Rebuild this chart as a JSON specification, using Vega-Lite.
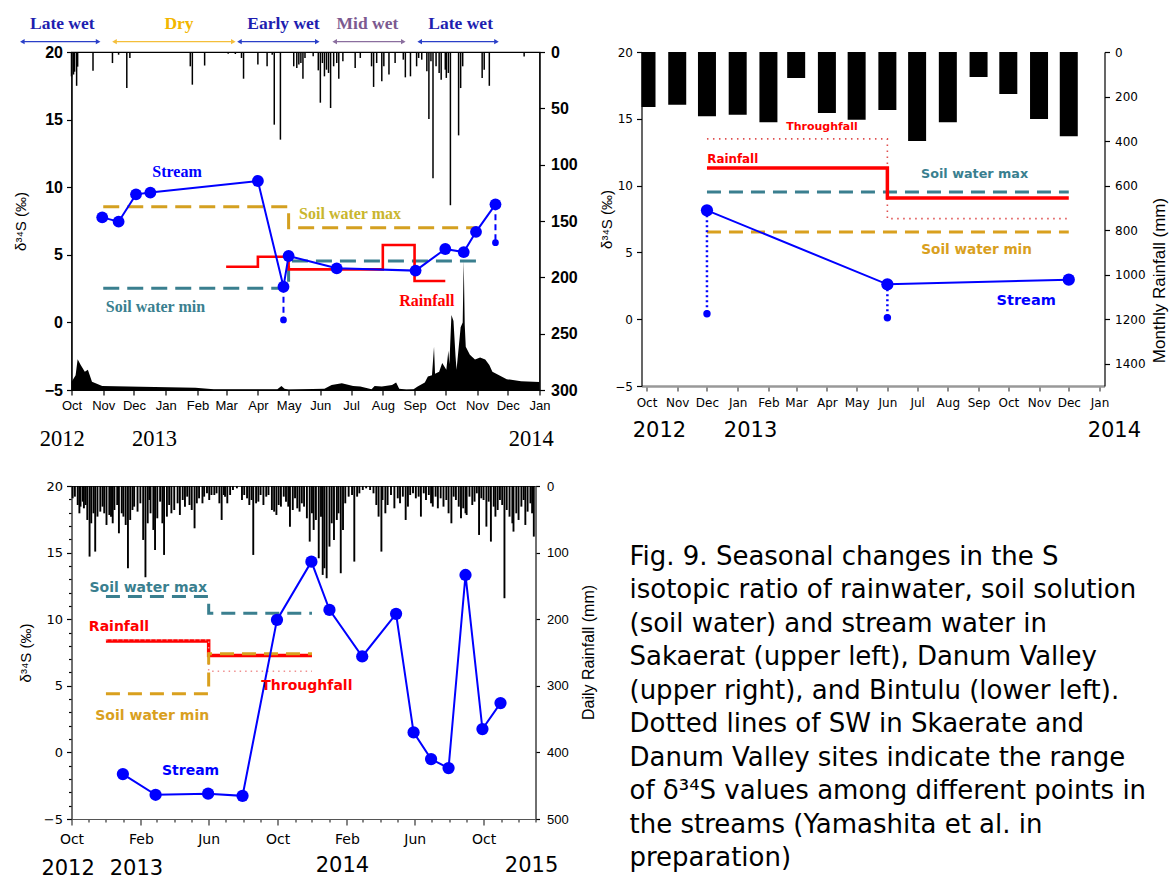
{
"$schema": "https://vega.github.io/schema/vega-lite/v6.json",
"background": "white",
"padding": {"left": 12.5, "top": 14, "right": 5, "bottom": 0},
"columns": 2,
"spacing": {"row": 96, "column": 102},
"bounds": "flush",
"config": {
  "view": {"stroke": null},
  "axis": {"grid": false, "domainColor": "black", "tickColor": "black", "labelColor": "black", "titleColor": "black", "domainWidth": 1.2, "tickWidth": 1.2}
},
"datasets": {
  "p1rain": [
    {"date":"2012-10-01","rain":21.6},{"date":"2012-10-03","rain":20},{"date":"2012-10-04","rain":17.5},{"date":"2012-10-06","rain":30},{"date":"2012-10-07","rain":13},
    {"date":"2012-10-22","rain":16.6},{"date":"2012-11-10","rain":9.8},{"date":"2012-11-16","rain":2.4},{"date":"2012-11-24","rain":32},{"date":"2012-11-27","rain":5.3},
    {"date":"2013-01-25","rain":12.7},{"date":"2013-01-27","rain":29},{"date":"2013-02-08","rain":12},{"date":"2013-03-03","rain":1.5},{"date":"2013-03-10","rain":1.8},
    {"date":"2013-03-16","rain":5.3},{"date":"2013-03-18","rain":23.7},{"date":"2013-04-01","rain":11},{"date":"2013-04-10","rain":12.7},{"date":"2013-04-15","rain":2.4},
    {"date":"2013-04-17","rain":64.5},{"date":"2013-04-23","rain":77.8},{"date":"2013-05-06","rain":12.7},{"date":"2013-05-09","rain":14.2},{"date":"2013-05-11","rain":11},
    {"date":"2013-05-13","rain":9.8},{"date":"2013-05-15","rain":23.7},{"date":"2013-05-17","rain":5.3},{"date":"2013-05-25","rain":3.8},{"date":"2013-05-30","rain":16.3},
    {"date":"2013-06-01","rain":45},{"date":"2013-06-03","rain":9.8},{"date":"2013-06-05","rain":21.6},{"date":"2013-06-07","rain":15.7},{"date":"2013-06-09","rain":18.6},
    {"date":"2013-06-11","rain":49.7},{"date":"2013-06-14","rain":12.7},{"date":"2013-06-17","rain":9.8},{"date":"2013-06-19","rain":23.7},{"date":"2013-06-23","rain":8.3},
    {"date":"2013-07-05","rain":14.2},{"date":"2013-07-10","rain":5.3},{"date":"2013-07-21","rain":12.7},{"date":"2013-07-23","rain":31},{"date":"2013-07-26","rain":9.8},
    {"date":"2013-07-31","rain":26},{"date":"2013-08-02","rain":12.7},{"date":"2013-08-07","rain":20},{"date":"2013-08-13","rain":9.8},{"date":"2013-08-21","rain":6.8},
    {"date":"2013-08-23","rain":22.5},{"date":"2013-08-28","rain":21.6},{"date":"2013-09-03","rain":12.7},{"date":"2013-09-05","rain":5.3},{"date":"2013-09-08","rain":6.8},
    {"date":"2013-09-13","rain":17},{"date":"2013-09-15","rain":59.5},{"date":"2013-09-17","rain":8.3},{"date":"2013-09-19","rain":112},{"date":"2013-09-22","rain":12.7},
    {"date":"2013-09-25","rain":18.6},{"date":"2013-09-27","rain":24.6},{"date":"2013-10-01","rain":15.7},{"date":"2013-10-02","rain":23},{"date":"2013-10-04","rain":18.6},
    {"date":"2013-10-06","rain":136},{"date":"2013-10-14","rain":74},{"date":"2013-10-16","rain":32},{"date":"2013-10-18","rain":12.7},{"date":"2013-11-06","rain":23},
    {"date":"2013-11-08","rain":15.7},{"date":"2013-11-13","rain":30},{"date":"2013-12-17","rain":4}
  ],
  "p1q": [
    {"date":"2012-10-01","v":-4.4},{"date":"2012-10-05","v":-3.9},{"date":"2012-10-07","v":-2.73},{"date":"2012-10-10","v":-3.15},{"date":"2012-10-14","v":-3.65},
    {"date":"2012-10-17","v":-3.5},{"date":"2012-10-21","v":-4.39},{"date":"2012-10-31","v":-4.7},{"date":"2012-12-08","v":-4.76},{"date":"2013-01-30","v":-4.83},
    {"date":"2013-02-17","v":-4.95},{"date":"2013-04-20","v":-4.95},{"date":"2013-04-24","v":-4.7},{"date":"2013-04-27","v":-4.9},{"date":"2013-05-01","v":-4.97},
    {"date":"2013-06-05","v":-4.9},{"date":"2013-06-12","v":-4.63},{"date":"2013-06-22","v":-4.5},{"date":"2013-07-03","v":-4.7},{"date":"2013-07-10","v":-4.75},
    {"date":"2013-07-21","v":-4.95},{"date":"2013-07-24","v":-4.7},{"date":"2013-07-31","v":-4.75},{"date":"2013-08-10","v":-4.63},{"date":"2013-08-14","v":-4.45},
    {"date":"2013-08-17","v":-4.9},{"date":"2013-08-24","v":-4.97},{"date":"2013-08-31","v":-4.95},{"date":"2013-09-04","v":-4.75},{"date":"2013-09-11","v":-4.45},
    {"date":"2013-09-14","v":-4.0},{"date":"2013-09-18","v":-3.9},{"date":"2013-09-20","v":-1.8},{"date":"2013-09-21","v":-3.8},{"date":"2013-09-25","v":-3.65},
    {"date":"2013-09-28","v":-3.0},{"date":"2013-10-02","v":-3.5},{"date":"2013-10-04","v":-2.1},{"date":"2013-10-05","v":-3.1},{"date":"2013-10-07","v":0.55},
    {"date":"2013-10-09","v":0.1},{"date":"2013-10-11","v":-2.5},{"date":"2013-10-12","v":-3.5},{"date":"2013-10-16","v":-0.35},{"date":"2013-10-18","v":0.0},
    {"date":"2013-10-19","v":4.6},{"date":"2013-10-20","v":-0.2},{"date":"2013-10-21","v":-1.8},{"date":"2013-10-25","v":-2.4},{"date":"2013-10-30","v":-2.75},
    {"date":"2013-11-04","v":-2.6},{"date":"2013-11-09","v":-2.75},{"date":"2013-11-13","v":-3.15},{"date":"2013-11-16","v":-3.65},{"date":"2013-11-30","v":-4.2},
    {"date":"2013-12-14","v":-4.35},{"date":"2014-01-01","v":-4.4}
  ],
  "p1swmax": [{"date":"2012-11-01","v":8.56},{"date":"2013-05-01","v":7.0},{"date":"2013-11-01","v":7.0}],
  "p1swmin": [{"date":"2012-11-01","v":2.52},{"date":"2013-05-01","v":4.54},{"date":"2013-11-01","v":4.54}],
  "p1rainfall": [{"date":"2013-03-01","v":4.12},{"date":"2013-04-01","v":4.86},{"date":"2013-05-01","v":3.92},{"date":"2013-08-01","v":5.72},{"date":"2013-09-01","v":3.06},{"date":"2013-10-01","v":3.06}],
  "p1stream": [
    {"date":"2012-10-31","v":7.77},{"date":"2012-11-16","v":7.45},{"date":"2012-12-03","v":9.47},{"date":"2012-12-17","v":9.6},{"date":"2013-04-01","v":10.46},
    {"date":"2013-04-26","v":2.64},{"date":"2013-05-01","v":4.91},{"date":"2013-06-17","v":4.0},{"date":"2013-09-02","v":3.83},{"date":"2013-10-01","v":5.43},
    {"date":"2013-10-19","v":5.2},{"date":"2013-10-31","v":6.7},{"date":"2013-11-19","v":8.73}
  ],
  "p1range": [{"date":"2013-04-26","v":2.64,"lo":0.18},{"date":"2013-11-19","v":8.73,"lo":5.9}],
  "p1labels": [
    {"label":"Stream","date":"2013-01-12","v":11.1},
    {"label":"Soil water max","date":"2013-06-30","v":8.02},
    {"label":"Soil water min","date":"2012-12-22","v":1.12},
    {"label":"Rainfall","date":"2013-09-13","v":1.6}
  ],
  "p1season": [
    {"season":"Late wet","start":"2012-08-14","end":"2012-10-27","mid":"2012-09-22","v":20.76},
    {"season":"Dry","start":"2012-11-12","end":"2013-03-08","mid":"2013-01-14","v":20.76},
    {"season":"Early wet","start":"2013-03-14","end":"2013-05-29","mid":"2013-04-26","v":20.76},
    {"season":"Mid wet","start":"2013-06-15","end":"2013-08-21","mid":"2013-07-17","v":20.76},
    {"season":"Late wet","start":"2013-09-06","end":"2013-11-20","mid":"2013-10-16","v":20.76}
  ],
  "p1years": [{"year":"2012","date":"2012-09-22","v":-8.6},{"year":"2013","date":"2012-12-21","v":-8.6},{"year":"2014","date":"2013-12-24","v":-8.6}],
  "p2rain": [
    {"date":"2012-10-01","rain":247},{"date":"2012-11-01","rain":237},{"date":"2012-12-01","rain":288},{"date":"2013-01-01","rain":282},{"date":"2013-02-01","rain":315},
    {"date":"2013-03-01","rain":117},{"date":"2013-04-01","rain":274},{"date":"2013-05-01","rain":304},{"date":"2013-06-01","rain":261},{"date":"2013-07-01","rain":400},
    {"date":"2013-08-01","rain":315},{"date":"2013-09-01","rain":112},{"date":"2013-10-01","rain":189},{"date":"2013-11-01","rain":301},{"date":"2013-12-01","rain":378}
  ],
  "p2tf": [{"date":"2012-12-01","v":13.5},{"date":"2013-06-01","v":7.53},{"date":"2013-12-01","v":7.53}],
  "p2rf": [{"date":"2012-12-01","v":11.32},{"date":"2013-06-01","v":9.07},{"date":"2013-12-01","v":9.07}],
  "p2swmax": [{"date":"2012-12-01","v":9.52},{"date":"2013-12-01","v":9.52}],
  "p2swmin": [{"date":"2012-12-01","v":6.53},{"date":"2013-12-01","v":6.53}],
  "p2stream": [{"date":"2012-12-01","v":8.15},{"date":"2013-06-01","v":2.61},{"date":"2013-12-01","v":2.96}],
  "p2range": [{"date":"2012-12-01","v":8.15,"lo":0.41},{"date":"2013-06-01","v":2.61,"lo":0.11}],
  "p2labels": [
    {"label":"Throughfall","date":"2013-03-27","v":14.39},
    {"label":"Rainfall","date":"2012-12-27","v":11.97},
    {"label":"Soil water max","date":"2013-08-28","v":10.9},
    {"label":"Soil water min","date":"2013-08-30","v":5.16},
    {"label":"Stream","date":"2013-10-19","v":1.36}
  ],
  "p2years": [{"year":"2012","date":"2012-10-14","v":-8.37},{"year":"2013","date":"2013-01-14","v":-8.37},{"year":"2014","date":"2014-01-16","v":-8.37}],
  "p3rain": [
    {"date":"2012-10-03","rain":18.5},{"date":"2012-10-07","rain":16},{"date":"2012-10-12","rain":28.5},{"date":"2012-10-15","rain":41},{"date":"2012-10-17","rain":31},
    {"date":"2012-10-21","rain":23.5},{"date":"2012-10-23","rain":33.5},{"date":"2012-10-26","rain":28.5},{"date":"2012-10-29","rain":51},{"date":"2012-11-02","rain":106},
    {"date":"2012-11-05","rain":56},{"date":"2012-11-09","rain":41},{"date":"2012-11-12","rain":98.5},{"date":"2012-11-16","rain":46},{"date":"2012-11-21","rain":38.5},
    {"date":"2012-11-25","rain":31},{"date":"2012-11-28","rain":41},{"date":"2012-12-02","rain":58.5},{"date":"2012-12-07","rain":43.5},{"date":"2012-12-10","rain":46},
    {"date":"2012-12-13","rain":56},{"date":"2012-12-16","rain":36},{"date":"2012-12-21","rain":28.5},{"date":"2012-12-24","rain":71},{"date":"2012-12-29","rain":41},
    {"date":"2013-01-01","rain":46},{"date":"2013-01-05","rain":58.5},{"date":"2013-01-09","rain":123.5},{"date":"2013-01-13","rain":51},{"date":"2013-01-17","rain":36},
    {"date":"2013-01-20","rain":31},{"date":"2013-01-26","rain":38.5},{"date":"2013-01-31","rain":26},{"date":"2013-02-05","rain":81},{"date":"2013-02-09","rain":137},
    {"date":"2013-02-13","rain":56},{"date":"2013-02-16","rain":21},{"date":"2013-02-18","rain":41},{"date":"2013-02-23","rain":66},{"date":"2013-02-26","rain":96},
    {"date":"2013-03-02","rain":48.5},{"date":"2013-03-07","rain":23.5},{"date":"2013-03-11","rain":56},{"date":"2013-03-14","rain":103.5},{"date":"2013-03-19","rain":46},
    {"date":"2013-03-23","rain":28.5},{"date":"2013-03-27","rain":41},{"date":"2013-04-01","rain":36},{"date":"2013-04-07","rain":26},{"date":"2013-04-11","rain":43.5},
    {"date":"2013-04-16","rain":21},{"date":"2013-04-20","rain":31},{"date":"2013-04-24","rain":16},{"date":"2013-04-28","rain":28.5},{"date":"2013-05-02","rain":36},
    {"date":"2013-05-07","rain":63.5},{"date":"2013-05-11","rain":26},{"date":"2013-05-15","rain":18.5},{"date":"2013-05-21","rain":26},{"date":"2013-05-24","rain":16},
    {"date":"2013-05-29","rain":11},{"date":"2013-06-02","rain":21},{"date":"2013-06-06","rain":13.5},{"date":"2013-06-11","rain":13.5},{"date":"2013-06-15","rain":11},
    {"date":"2013-06-20","rain":26},{"date":"2013-06-24","rain":51},{"date":"2013-06-28","rain":13.5},{"date":"2013-06-30","rain":16},{"date":"2013-07-04","rain":26},
    {"date":"2013-07-09","rain":13.5},{"date":"2013-07-14","rain":6},{"date":"2013-07-21","rain":3.5},{"date":"2013-07-30","rain":21},{"date":"2013-08-03","rain":13.5},
    {"date":"2013-08-08","rain":18.5},{"date":"2013-08-12","rain":28.5},{"date":"2013-08-16","rain":21},{"date":"2013-08-19","rain":103.5},{"date":"2013-08-24","rain":26},
    {"date":"2013-08-28","rain":23.5},{"date":"2013-09-01","rain":13.5},{"date":"2013-09-06","rain":28.5},{"date":"2013-09-11","rain":16},{"date":"2013-09-15","rain":13.5},
    {"date":"2013-09-21","rain":36},{"date":"2013-09-25","rain":38.5},{"date":"2013-09-29","rain":43.5},{"date":"2013-10-03","rain":28.5},{"date":"2013-10-07","rain":31},
    {"date":"2013-10-12","rain":16},{"date":"2013-10-16","rain":23.5},{"date":"2013-10-20","rain":31},{"date":"2013-10-23","rain":61},{"date":"2013-10-28","rain":36},
    {"date":"2013-11-01","rain":18.5},{"date":"2013-11-05","rain":33.5},{"date":"2013-11-09","rain":38.5},{"date":"2013-11-13","rain":26},{"date":"2013-11-17","rain":31},
    {"date":"2013-11-22","rain":48.5},{"date":"2013-11-27","rain":83.5},{"date":"2013-12-01","rain":41},{"date":"2013-12-04","rain":66},{"date":"2013-12-08","rain":51},
    {"date":"2013-12-13","rain":108.5},{"date":"2013-12-17","rain":46},{"date":"2013-12-20","rain":133.5},{"date":"2013-12-23","rain":123.5},{"date":"2013-12-27","rain":138.5},
    {"date":"2014-01-01","rain":91},{"date":"2014-01-05","rain":56},{"date":"2014-01-09","rain":81},{"date":"2014-01-14","rain":51},{"date":"2014-01-17","rain":41},
    {"date":"2014-01-21","rain":131},{"date":"2014-01-25","rain":66},{"date":"2014-01-29","rain":26},{"date":"2014-02-04","rain":16},{"date":"2014-02-10","rain":13.5},
    {"date":"2014-02-14","rain":113.5},{"date":"2014-02-19","rain":16},{"date":"2014-02-23","rain":11},{"date":"2014-03-01","rain":6},{"date":"2014-03-07","rain":3.5},
    {"date":"2014-03-14","rain":6},{"date":"2014-03-20","rain":11},{"date":"2014-03-25","rain":28.5},{"date":"2014-03-29","rain":46},{"date":"2014-04-03","rain":98.5},
    {"date":"2014-04-05","rain":21},{"date":"2014-04-10","rain":41},{"date":"2014-04-14","rain":28.5},{"date":"2014-04-20","rain":13.5},{"date":"2014-04-26","rain":33.5},
    {"date":"2014-05-02","rain":18.5},{"date":"2014-05-06","rain":26},{"date":"2014-05-11","rain":16},{"date":"2014-05-16","rain":51},{"date":"2014-05-20","rain":31},
    {"date":"2014-05-24","rain":13.5},{"date":"2014-05-29","rain":11},{"date":"2014-06-03","rain":18.5},{"date":"2014-06-08","rain":16},{"date":"2014-06-12","rain":46},
    {"date":"2014-06-17","rain":11},{"date":"2014-06-21","rain":21},{"date":"2014-06-26","rain":13.5},{"date":"2014-06-30","rain":26},{"date":"2014-07-03","rain":31},
    {"date":"2014-07-08","rain":16},{"date":"2014-07-12","rain":33.5},{"date":"2014-07-17","rain":18.5},{"date":"2014-07-22","rain":31},{"date":"2014-07-27","rain":21},
    {"date":"2014-07-31","rain":41},{"date":"2014-08-05","rain":56},{"date":"2014-08-09","rain":16},{"date":"2014-08-13","rain":21},{"date":"2014-08-18","rain":31},
    {"date":"2014-08-22","rain":48.5},{"date":"2014-08-26","rain":33.5},{"date":"2014-08-30","rain":41},{"date":"2014-09-01","rain":43.5},{"date":"2014-09-06","rain":16},
    {"date":"2014-09-11","rain":28.5},{"date":"2014-09-15","rain":23.5},{"date":"2014-09-19","rain":11},{"date":"2014-09-23","rain":73.5},{"date":"2014-09-27","rain":18.5},
    {"date":"2014-10-01","rain":21},{"date":"2014-10-06","rain":61},{"date":"2014-10-10","rain":23.5},{"date":"2014-10-14","rain":83.5},{"date":"2014-10-19","rain":31},
    {"date":"2014-10-22","rain":46},{"date":"2014-10-26","rain":36},{"date":"2014-10-30","rain":21},{"date":"2014-11-03","rain":28.5},{"date":"2014-11-07","rain":168.5},
    {"date":"2014-11-11","rain":36},{"date":"2014-11-16","rain":46},{"date":"2014-11-21","rain":56},{"date":"2014-11-23","rain":68.5},{"date":"2014-11-28","rain":41},
    {"date":"2014-12-02","rain":51},{"date":"2014-12-07","rain":31},{"date":"2014-12-11","rain":21},{"date":"2014-12-14","rain":58.5},{"date":"2014-12-18","rain":38.5},
    {"date":"2014-12-23","rain":26},{"date":"2014-12-26","rain":41},{"date":"2014-12-29","rain":76}
  ],
  "p3swmax": [{"date":"2012-12-01","v":11.7},{"date":"2013-06-01","v":10.45},{"date":"2013-12-01","v":10.45}],
  "p3tf": [{"date":"2012-12-01","v":8.45},{"date":"2013-06-01","v":6.1},{"date":"2013-12-01","v":6.1}],
  "p3rf": [{"date":"2012-12-01","v":8.37},{"date":"2013-06-01","v":7.27},{"date":"2013-12-01","v":7.27}],
  "p3swmin": [{"date":"2012-12-01","v":4.4},{"date":"2013-06-01","v":7.4},{"date":"2013-12-01","v":7.4}],
  "p3stream": [
    {"date":"2012-12-31","v":-1.63},{"date":"2013-02-27","v":-3.18},{"date":"2013-05-31","v":-3.1},{"date":"2013-07-31","v":-3.26},{"date":"2013-09-30","v":9.95},
    {"date":"2013-11-30","v":14.32},{"date":"2014-01-01","v":10.7},{"date":"2014-02-28","v":7.2},{"date":"2014-04-29","v":10.4},{"date":"2014-05-30","v":1.5},
    {"date":"2014-06-30","v":-0.5},{"date":"2014-07-31","v":-1.18},{"date":"2014-08-30","v":13.32},{"date":"2014-09-29","v":1.75},{"date":"2014-10-31","v":3.7}
  ],
  "p3labels": [
    {"label":"Soil water max","date":"2013-02-14","v":12.33},
    {"label":"Rainfall","date":"2012-12-24","v":9.4},
    {"label":"Soil water min","date":"2013-02-21","v":2.7},
    {"label":"Throughfall","date":"2013-11-22","v":5.02},
    {"label":"Stream","date":"2013-04-30","v":-1.36}
  ],
  "p3years": [{"year":"2012","date":"2012-09-25","v":-8.75},{"year":"2013","date":"2013-01-24","v":-8.75},{"year":"2014","date":"2014-01-24","v":-8.5},{"year":"2015","date":"2014-12-25","v":-8.55}],
  "caption": [
    {"line":1,"text":"Fig. 9. Seasonal changes in the S"},
    {"line":2,"text":"isotopic ratio of rainwater, soil solution"},
    {"line":3,"text":"(soil water) and stream water in"},
    {"line":4,"text":"Sakaerat (upper left), Danum Valley"},
    {"line":5,"text":"(upper right), and Bintulu (lower left)."},
    {"line":6,"text":"Dotted lines of SW in Skaerate and"},
    {"line":7,"text":"Danum Valley sites indicate the range"},
    {"line":8,"text":"of δ³⁴S values among different points in"},
    {"line":9,"text":"the streams (Yamashita et al. in"},
    {"line":10,"text":"preparation)"}
  ]
},
"concat": [
  {
    "width": 468, "height": 338,
    "view": {"stroke": "black", "strokeWidth": 1.2},
    "encoding": {"x": {"field": "date", "type": "temporal",
      "scale": {"type": "utc", "domain": [{"year":2012,"month":10,"date":1,"utc":true},{"year":2014,"month":1,"date":1,"utc":true}]},
      "axis": {"title": null, "format": "%b", "tickCount": {"interval": "month", "step": 1}, "labelFont": "Liberation Sans", "labelFontSize": 13, "tickSize": 5, "labelPadding": 4, "labelFlush": false, "labelOverlap": false}}},
    "layer": [
      {"data": {"name": "p1rain"}, "mark": {"type": "rule", "color": "black", "strokeWidth": 1.5},
       "encoding": {"y": {"field": "rain", "type": "quantitative", "scale": {"domain": [0, 300], "reverse": true, "nice": false},
         "axis": {"orient": "right", "title": null, "values": [0,50,100,150,200,250,300], "labelFont": "Liberation Sans", "labelFontWeight": "bold", "labelFontSize": 16, "tickSize": 5, "labelPadding": 6}},
         "y2": {"datum": 0}}},
      {"encoding": {"y": {"field": "v", "type": "quantitative", "scale": {"domain": [-5, 20], "nice": false, "zero": false},
         "axis": {"orient": "left", "values": [-5,0,5,10,15,20], "title": "δ³⁴S (‰)", "titleFont": "Liberation Sans", "titleFontSize": 15, "titleFontWeight": "normal", "titlePadding": 16, "labelFont": "Liberation Sans", "labelFontWeight": "bold", "labelFontSize": 16, "tickSize": 5, "labelPadding": 4}}},
       "resolve": {"scale": {"color": "independent", "fill": "independent"}},
       "layer": [
         {"data": {"name": "p1q"}, "mark": {"type": "area", "color": "black"}, "encoding": {"y2": {"datum": -5}}},
         {"data": {"name": "p1swmin"}, "mark": {"type": "line", "interpolate": "step-after", "color": "#3A7F8F", "strokeWidth": 3, "strokeDash": [16, 8]}, "encoding": {}},
         {"data": {"name": "p1swmax"}, "mark": {"type": "line", "interpolate": "step-after", "color": "#D4A020", "strokeWidth": 3, "strokeDash": [16, 8]}, "encoding": {}},
         {"data": {"name": "p1rainfall"}, "mark": {"type": "line", "interpolate": "step-after", "color": "#FF0000", "strokeWidth": 2.6}, "encoding": {}},
         {"data": {"name": "p1range"}, "mark": {"type": "rule", "color": "#0000FF", "strokeWidth": 2, "strokeDash": [6, 4]}, "encoding": {"y2": {"field": "lo"}}},
         {"data": {"name": "p1range"}, "mark": {"type": "point", "filled": true, "opacity": 1, "color": "#0000FF", "size": 45}, "encoding": {"y": {"field": "lo", "type": "quantitative"}}},
         {"data": {"name": "p1stream"}, "mark": {"type": "line", "color": "#0000FF", "strokeWidth": 2}, "encoding": {}},
         {"data": {"name": "p1stream"}, "mark": {"type": "point", "filled": true, "opacity": 1, "color": "#0000FF", "size": 140}, "encoding": {}},
         {"data": {"name": "p1labels"}, "mark": {"type": "text", "font": "Liberation Serif", "fontWeight": "bold", "fontSize": 16},
          "encoding": {"text": {"field": "label"},
            "fill": {"field": "label", "type": "nominal", "scale": {"domain": ["Stream","Soil water max","Soil water min","Rainfall"], "range": ["#0000FF","#C9B62E","#3A7F8F","#FF0000"]}, "legend": null}}},
         {"data": {"name": "p1season"}, "mark": {"type": "rule", "strokeWidth": 1.3},
          "encoding": {"x": {"field": "start", "type": "temporal", "scale": {"type": "utc"}}, "x2": {"field": "end"},
            "color": {"field": "season", "type": "nominal", "scale": {"domain": ["Late wet","Dry","Early wet","Mid wet"], "range": ["#2A3FC8","#F4BE3A","#2A3FC8","#8A6E9E"]}, "legend": null}}},
         {"data": {"name": "p1season"}, "mark": {"type": "point", "shape": "triangle-left", "filled": true, "opacity": 1, "size": 28},
          "encoding": {"x": {"field": "start", "type": "temporal", "scale": {"type": "utc"}},
            "color": {"field": "season", "type": "nominal", "scale": {"domain": ["Late wet","Dry","Early wet","Mid wet"], "range": ["#2A3FC8","#F4BE3A","#2A3FC8","#8A6E9E"]}, "legend": null}}},
         {"data": {"name": "p1season"}, "mark": {"type": "point", "shape": "triangle-right", "filled": true, "opacity": 1, "size": 28},
          "encoding": {"x": {"field": "end", "type": "temporal", "scale": {"type": "utc"}},
            "color": {"field": "season", "type": "nominal", "scale": {"domain": ["Late wet","Dry","Early wet","Mid wet"], "range": ["#2A3FC8","#F4BE3A","#2A3FC8","#8A6E9E"]}, "legend": null}}},
         {"data": {"name": "p1season"}, "mark": {"type": "text", "font": "Liberation Serif", "fontWeight": "bold", "fontSize": 17.5, "dy": -18},
          "encoding": {"x": {"field": "mid", "type": "temporal", "scale": {"type": "utc"}}, "text": {"field": "season"},
            "fill": {"field": "season", "type": "nominal", "scale": {"domain": ["Late wet","Dry","Early wet","Mid wet"], "range": ["#1E1EB0","#F2B600","#1E1EB0","#7C5A90"]}, "legend": null}}},
         {"data": {"name": "p1years"}, "mark": {"type": "text", "font": "Liberation Serif", "fontSize": 22.5, "color": "black"},
          "encoding": {"text": {"field": "year"}}}
       ]}
    ],
    "resolve": {"scale": {"y": "independent"}}
  },
  {
    "width": 463, "height": 334,
    "encoding": {"x": {"field": "date", "type": "temporal",
      "scale": {"type": "utc", "domain": [{"year":2012,"month":10,"date":1,"utc":true},{"year":2014,"month":1,"date":1,"utc":true}]},
      "axis": {"title": null, "format": "%b", "tickCount": {"interval": "month", "step": 1}, "labelFont": "DejaVu Sans", "labelFontSize": 12, "tickSize": 5, "labelPadding": 6, "labelFlush": false, "labelOverlap": false, "domainColor": "#999999", "domainWidth": 2.5, "tickColor": "#444444"}}},
    "layer": [
      {"data": {"name": "p2rain"}, "mark": {"type": "bar", "color": "black", "width": 18, "clip": true},
       "encoding": {"y": {"field": "rain", "type": "quantitative", "scale": {"domain": [0, 1500], "reverse": true, "nice": false},
         "axis": {"orient": "right", "values": [0,200,400,600,800,1000,1200,1400], "format": "d", "title": "Monthly Rainfall (mm)", "titleFont": "Liberation Sans", "titleFontSize": 17, "titleFontWeight": "normal", "titleAngle": 270, "titleX": 55, "titleY": 228, "titleAlign": "center", "titleBaseline": "middle", "labelFont": "DejaVu Sans", "labelFontSize": 12, "tickSize": 5, "labelPadding": 5}}}},
      {"encoding": {"y": {"field": "v", "type": "quantitative", "scale": {"domain": [-5, 20], "nice": false, "zero": false},
         "axis": {"orient": "left", "values": [-5,0,5,10,15,20], "title": "δ³⁴S (‰)", "titleFont": "Liberation Sans", "titleFontSize": 15, "titleFontWeight": "normal", "titlePadding": 0, "labelFont": "DejaVu Sans", "labelFontSize": 12, "tickSize": 5, "labelPadding": 4}}},
       "resolve": {"scale": {"fill": "independent", "size": "independent"}},
       "layer": [
         {"data": {"name": "p2tf"}, "mark": {"type": "line", "interpolate": "step-after", "color": "#E05050", "strokeWidth": 1.6, "strokeDash": [1.5, 4.5]}, "encoding": {}},
         {"data": {"name": "p2swmax"}, "mark": {"type": "line", "color": "#3A7F8F", "strokeWidth": 3, "strokeDash": [14, 8]}, "encoding": {}},
         {"data": {"name": "p2swmin"}, "mark": {"type": "line", "color": "#D9A01E", "strokeWidth": 3, "strokeDash": [14, 8]}, "encoding": {}},
         {"data": {"name": "p2rf"}, "mark": {"type": "line", "interpolate": "step-after", "color": "#FF0000", "strokeWidth": 3.5}, "encoding": {}},
         {"data": {"name": "p2range"}, "mark": {"type": "rule", "color": "#0000FF", "strokeWidth": 2.5, "strokeDash": [2, 3]}, "encoding": {"y2": {"field": "lo"}}},
         {"data": {"name": "p2range"}, "mark": {"type": "point", "filled": true, "opacity": 1, "color": "#0000FF", "size": 55}, "encoding": {"y": {"field": "lo", "type": "quantitative"}}},
         {"data": {"name": "p2stream"}, "mark": {"type": "line", "color": "#0000FF", "strokeWidth": 2}, "encoding": {}},
         {"data": {"name": "p2stream"}, "mark": {"type": "point", "filled": true, "opacity": 1, "color": "#0000FF", "size": 150}, "encoding": {}},
         {"data": {"name": "p2labels"}, "mark": {"type": "text", "font": "DejaVu Sans", "fontWeight": "bold"},
          "encoding": {"text": {"field": "label"},
            "fill": {"field": "label", "type": "nominal", "scale": {"domain": ["Throughfall","Rainfall","Soil water max","Soil water min","Stream"], "range": ["#FF0000","#FF0000","#3A7F8F","#D9A01E","#0000FF"]}, "legend": null},
            "size": {"field": "label", "type": "nominal", "scale": {"domain": ["Throughfall","Rainfall","Soil water max","Soil water min","Stream"], "range": [11, 14.5, 14, 14, 14]}, "legend": null}}},
         {"data": {"name": "p2years"}, "mark": {"type": "text", "font": "DejaVu Sans", "fontSize": 21, "color": "black"},
          "encoding": {"text": {"field": "year"}}}
       ]}
    ],
    "resolve": {"scale": {"y": "independent"}}
  },
  {
    "width": 464, "height": 333,
    "view": {"stroke": "#333333", "strokeWidth": 1},
    "encoding": {"x": {"field": "date", "type": "temporal",
      "scale": {"type": "utc", "domain": [{"year":2012,"month":10,"date":1,"utc":true},{"year":2015,"month":1,"date":1,"utc":true}]},
      "axis": {"title": null, "tickCount": {"interval": "month", "step": 1}, "labelExpr": "utcmonth(datum.value) % 4 == 1 ? utcFormat(datum.value, '%b') : ''", "labelFont": "DejaVu Sans", "labelFontSize": 14, "tickSize": {"condition": {"test": "utcmonth(datum.value) % 4 == 1", "value": 6}, "value": 3}, "labelPadding": 7, "labelFlush": false, "labelOverlap": false, "domainColor": "#555555", "tickColor": "#333333"}}},
    "layer": [
      {"data": {"name": "p3rain"}, "mark": {"type": "rule", "color": "black", "strokeWidth": 1.9},
       "encoding": {"y": {"field": "rain", "type": "quantitative", "scale": {"domain": [0, 500], "reverse": true, "nice": false},
         "axis": {"orient": "right", "values": [0,100,200,300,400,500], "title": "Daily Rainfall (mm)", "titleFont": "Liberation Sans", "titleFontSize": 16, "titleFontWeight": "normal", "titleAngle": 270, "titleX": 53, "titleY": 166, "titleAlign": "center", "titleBaseline": "middle", "labelFont": "Liberation Sans", "labelFontSize": 13, "tickSize": 4, "labelPadding": 7, "domainColor": "#555555"}},
         "y2": {"datum": 0}}},
      {"encoding": {"y": {"field": "v", "type": "quantitative", "scale": {"domain": [-5, 20], "nice": false, "zero": false},
         "axis": {"orient": "left", "values": [-5,-4,-3,-2,-1,0,1,2,3,4,5,6,7,8,9,10,11,12,13,14,15,16,17,18,19,20], "labelExpr": "datum.value % 5 == 0 ? datum.label : ''",
           "tickSize": {"condition": {"test": "datum.value % 5 == 0", "value": 5}, "value": 3},
           "title": "δ³⁴S (‰)", "titleFont": "Liberation Sans", "titleFontSize": 15, "titleFontWeight": "normal", "titlePadding": 10, "labelFont": "DejaVu Sans", "labelFontSize": 13, "labelPadding": 4, "labelOverlap": false, "domainColor": "#555555"}}},
       "resolve": {"scale": {"fill": "independent", "size": "independent"}},
       "layer": [
         {"data": {"name": "p3swmax"}, "mark": {"type": "line", "interpolate": "step-after", "color": "#3A7F8F", "strokeWidth": 3, "strokeDash": [14, 8]}, "encoding": {}},
         {"data": {"name": "p3rf"}, "mark": {"type": "line", "interpolate": "step-after", "color": "#FF0000", "strokeWidth": 3.5}, "encoding": {}},
         {"data": {"name": "p3tf"}, "mark": {"type": "line", "interpolate": "step-after", "color": "#F09090", "strokeWidth": 1.5, "strokeDash": [1.5, 4]}, "encoding": {}},
         {"data": {"name": "p3swmin"}, "mark": {"type": "line", "interpolate": "step-after", "color": "#D9A01E", "strokeWidth": 3, "strokeDash": [14, 8]}, "encoding": {}},
         {"data": {"name": "p3stream"}, "mark": {"type": "line", "color": "#0000FF", "strokeWidth": 2}, "encoding": {}},
         {"data": {"name": "p3stream"}, "mark": {"type": "point", "filled": true, "opacity": 1, "color": "#0000FF", "size": 150}, "encoding": {}},
         {"data": {"name": "p3labels"}, "mark": {"type": "text", "font": "DejaVu Sans", "fontWeight": "bold"},
          "encoding": {"text": {"field": "label"},
            "fill": {"field": "label", "type": "nominal", "scale": {"domain": ["Soil water max","Rainfall","Soil water min","Throughfall","Stream"], "range": ["#3A7F8F","#FF0000","#D9A01E","#FF0000","#0000FF"]}, "legend": null},
            "size": {"field": "label", "type": "nominal", "scale": {"domain": ["Soil water max","Rainfall","Soil water min","Throughfall","Stream"], "range": [14, 14, 13.5, 11, 14]}, "legend": null}}},
         {"data": {"name": "p3years"}, "mark": {"type": "text", "font": "DejaVu Sans", "fontSize": 21, "color": "black"},
          "encoding": {"text": {"field": "year"}}}
       ]}
    ],
    "resolve": {"scale": {"y": "independent"}}
  },
  {
    "width": 463, "height": 400,
    "data": {"name": "caption"},
    "mark": {"type": "text", "align": "left", "baseline": "middle", "font": "DejaVu Sans", "fontSize": 26, "color": "black", "dx": -12},
    "encoding": {
      "x": {"datum": 0, "type": "quantitative", "scale": {"domain": [0, 1]}, "axis": null},
      "y": {"field": "line", "type": "quantitative", "scale": {"domain": [-1.11, 10.83], "reverse": true, "nice": false, "zero": false}, "axis": null},
      "text": {"field": "text"}
    }
  }
]
}
